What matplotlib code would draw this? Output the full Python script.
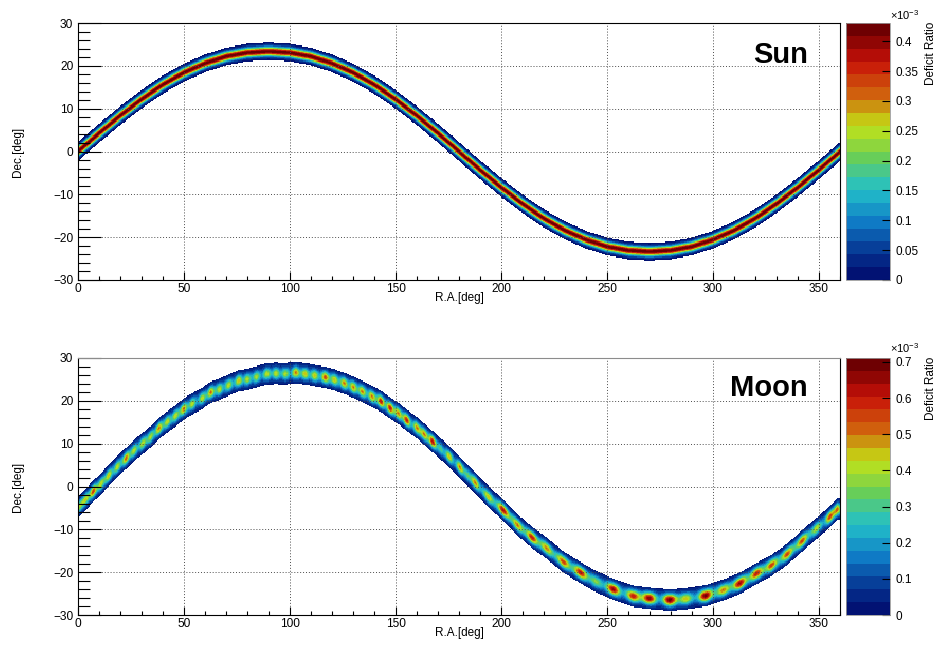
import numpy as np
import matplotlib
matplotlib.use("Agg")
import matplotlib.pyplot as plt
from matplotlib.colors import LinearSegmentedColormap, ListedColormap, BoundaryNorm
from matplotlib.ticker import MultipleLocator, FuncFormatter

plt.rcParams['font.family'] = ['Liberation Sans', 'DejaVu Sans']
plt.rcParams['mathtext.fontset'] = 'custom'
plt.rcParams['mathtext.rm'] = 'Liberation Sans'

# --- Sun track: centre Dec read every 10 deg of R.A.
sun_ra = np.arange(0, 361, 10)
sun_dec = [0.0, 4.3, 8.4, 12.2, 15.6, 18.4, 20.6, 22.2, 23.1, 23.4,
           23.1, 22.2, 20.6, 18.4, 15.6, 12.2, 8.4, 4.3, 0.0,
           -4.3, -8.4, -12.2, -15.6, -18.4, -20.6, -22.2, -23.1, -23.4,
           -23.1, -22.2, -20.6, -18.4, -15.6, -12.2, -8.4, -4.3, 0.0]
sun_peak = 0.43        # x1e-3
sun_max = 0.4306

# --- Moon: blob positions (R.A., Dec) and peak deficit (x1e-3)
moon_ra = [0.6, 3.6, 7.2, 10.9, 14.5, 18.6, 22.7, 26.5, 30.6, 34.3, 38.3, 42.2,
           46.1, 49.9, 54.0, 58.7, 62.8, 66.8, 71.2, 75.9, 80.0, 84.3, 89.2, 93.6,
           98.0, 102.9, 107.3, 111.8, 116.8, 121.2, 125.7, 130.1, 134.3, 138.9,
           143.1, 147.5, 151.3, 155.3, 160.1, 163.6, 167.5, 171.3, 175.4, 180.4,
           184.0, 187.7, 193.8, 200.9, 207.7, 214.5, 221.4, 229.3, 237.4, 244.7,
           252.9, 262.3, 269.9, 279.6, 287.2, 296.5, 304.8, 312.7, 320.6, 327.7,
           335.1, 342.1, 348.9, 355.2, 358.7]
moon_dec = [-4.7, -3.0, -1.1, 0.6, 2.6, 4.6, 6.6, 8.4, 10.1, 11.6, 13.6, 15.1,
            16.5, 18.1, 19.3, 20.6, 22.0, 22.7, 23.7, 24.7, 25.0, 25.6, 26.3, 26.4,
            26.3, 26.6, 26.3, 25.9, 25.5, 24.9, 24.1, 23.2, 22.2, 21.0,
            19.9, 18.3, 17.1, 15.5, 13.7, 12.2, 10.5, 8.8, 7.0, 4.5,
            2.7, 0.9, -2.4, -5.5, -9.0, -11.9, -14.4, -17.6, -20.1, -22.2,
            -24.0, -25.6, -26.1, -26.5, -26.2, -25.5, -24.2, -22.6, -20.3, -18.4,
            -15.8, -12.7, -9.8, -7.1, -5.3]
moon_peak = [0.38, 0.42, 0.55, 0.42, 0.45, 0.42, 0.52, 0.42, 0.42, 0.40, 0.50, 0.42,
             0.42, 0.50, 0.42, 0.42, 0.50, 0.42, 0.42, 0.45, 0.40, 0.40, 0.42, 0.42,
             0.40, 0.50, 0.45, 0.45, 0.55, 0.45, 0.50, 0.50, 0.50, 0.50,
             0.60, 0.60, 0.50, 0.60, 0.50, 0.50, 0.62, 0.30, 0.45, 0.50,
             0.30, 0.50, 0.45, 0.62, 0.50, 0.60, 0.50, 0.55, 0.62, 0.36,
             0.65, 0.60, 0.67, 0.70, 0.45, 0.70, 0.50, 0.65, 0.60, 0.55,
             0.55, 0.55, 0.42, 0.55, 0.50]
moon_base = 0.07
moon_max = 0.711

# ROOT kRainBow palette, 20 contour levels
pal_r = [0, 5, 15, 35, 102, 196, 208, 199, 110]
pal_g = [0, 48, 124, 192, 206, 226, 97, 16, 0]
pal_b = [99, 142, 198, 201, 90, 22, 13, 8, 2]
pal = LinearSegmentedColormap.from_list(
    "rainbow", [(r / 255, g / 255, b / 255) for r, g, b in zip(pal_r, pal_g, pal_b)])
ncont = 20
cols = [pal(min(int((i + 0.99) * 255 / ncont), 254) / 254) for i in range(ncont)]
cmap20 = ListedColormap(cols)

# histogram binning
ra_edges = np.arange(0, 360.001, 0.5)
dec_edges = np.arange(-30, 30.001, 0.25)
ra_c = 0.5 * (ra_edges[1:] + ra_edges[:-1])
dec_c = 0.5 * (dec_edges[1:] + dec_edges[:-1])
RA, DEC = np.meshgrid(ra_c, dec_c)

# sun map
c_sun = np.interp(ra_c, sun_ra, sun_dec)
slope = np.gradient(c_sun, ra_c)
v = (DEC - c_sun[None, :]) / np.sqrt(1 + slope ** 2)[None, :]
z_sun = sun_peak * np.exp(-v ** 2 / (2 * 0.72 ** 2))
z_sun = np.ma.masked_where(np.abs(v) > 2.05, np.minimum(z_sun, sun_max * 0.999))

# moon map
c_moon = np.interp(ra_c, moon_ra, moon_dec)
v = DEC - c_moon[None, :]
z_moon = moon_base * np.exp(-v ** 2 / (2 * 1.6 ** 2))
mra = np.array(moon_ra)
gaps = np.diff(mra)
spacing = np.concatenate([[gaps[0]], 0.5 * (gaps[1:] + gaps[:-1]), [gaps[-1]]])
for r0, p, sp in zip(mra, moon_peak, spacing):
    su = np.clip(0.3 * sp, 1.25, 2.4)
    z_moon += (p - moon_base) * np.exp(-(RA - r0) ** 2 / (2 * su ** 2) - v ** 2 / (2 * 0.95 ** 2))
z_moon = np.ma.masked_where(np.abs(v) > 2.5, np.minimum(z_moon, moon_max * 0.999))

fig = plt.figure(figsize=(9.39, 6.45), dpi=100)
W, H = 939, 645


def box(x0, y0, x1, y1):
    return [x0 / W, 1 - y1 / H, (x1 - x0) / W, (y1 - y0) / H]


panels = [
    (23, 280, z_sun, sun_max, np.arange(0, 0.41, 0.05), "Sun", 62.7, 20, "black"),
    (358, 615, z_moon, moon_max, np.arange(0, 0.71, 0.1), "Moon", 396, 353, "0.55"),
]

for top, bot, z, vmax, cticks, name, base_y, exp_y, topcol in panels:
    ax = fig.add_axes(box(78, top, 840, bot))
    cax = fig.add_axes(box(845.5, top, 890, bot))
    norm = BoundaryNorm(np.linspace(0, vmax, ncont + 1), ncont)
    mesh = ax.pcolormesh(ra_edges, dec_edges, z, cmap=cmap20, norm=norm)
    ax.set_xlim(0, 360)
    ax.set_ylim(-30, 30)
    ax.xaxis.set_major_locator(MultipleLocator(50))
    ax.xaxis.set_minor_locator(MultipleLocator(10))
    ax.yaxis.set_major_locator(MultipleLocator(10))
    ax.yaxis.set_minor_locator(MultipleLocator(2))
    ax.tick_params(axis='x', which='major', direction='in', length=5.8, width=0.8,
                   top=False, labelsize=8.6, pad=2.0)
    ax.tick_params(axis='x', which='minor', direction='in', length=2.9, width=0.8, top=False)
    ax.tick_params(axis='y', which='major', direction='in', length=16.5, width=0.8,
                   right=False, labelsize=8.6, pad=3.4)
    ax.tick_params(axis='y', which='minor', direction='in', length=8.5, width=0.8, right=False)
    ax.grid(True, which='major', linestyle=(0, (1, 2)), color='0.3', linewidth=0.7)
    for s in ax.spines.values():
        s.set_linewidth(0.8)
    ax.spines['top'].set_color(topcol)
    ax.text(0.5, -18 / 257, "R.A.[deg]", transform=ax.transAxes, ha='center',
            va='center', fontsize=8.5)
    ax.text(-60 / 762, 0.5, "Dec.[deg]", transform=ax.transAxes, ha='center',
            va='center', rotation=90, fontsize=8.5)
    ax.text((808 - 78) / 762, (bot - base_y) / 257, name, transform=ax.transAxes,
            ha='right', va='baseline', fontsize=21, fontweight='bold')

    cb = fig.colorbar(mesh, cax=cax, ticks=cticks)
    cb.outline.set_edgecolor('0.6')
    cb.outline.set_linewidth(0.6)
    cax.yaxis.set_major_formatter(FuncFormatter(lambda x, pos: f"{x:.2f}".rstrip('0').rstrip('.')))
    cax.tick_params(axis='y', which='major', direction='in', length=5.5, width=0.8,
                    color='black', labelsize=8.5, pad=4.0)
    cax.tick_params(axis='y', which='minor', length=0)
    fig.text(890 / W, 1 - exp_y / H, r"$\mathregular{\times10^{-3}}$", ha='left',
             va='baseline', fontsize=8)
    fig.text(930.5 / W, 1 - (top - 1) / H, "Deficit Ratio", rotation=90, ha='center',
             va='top', fontsize=8.5)

fig.savefig("out.png", dpi=100)
